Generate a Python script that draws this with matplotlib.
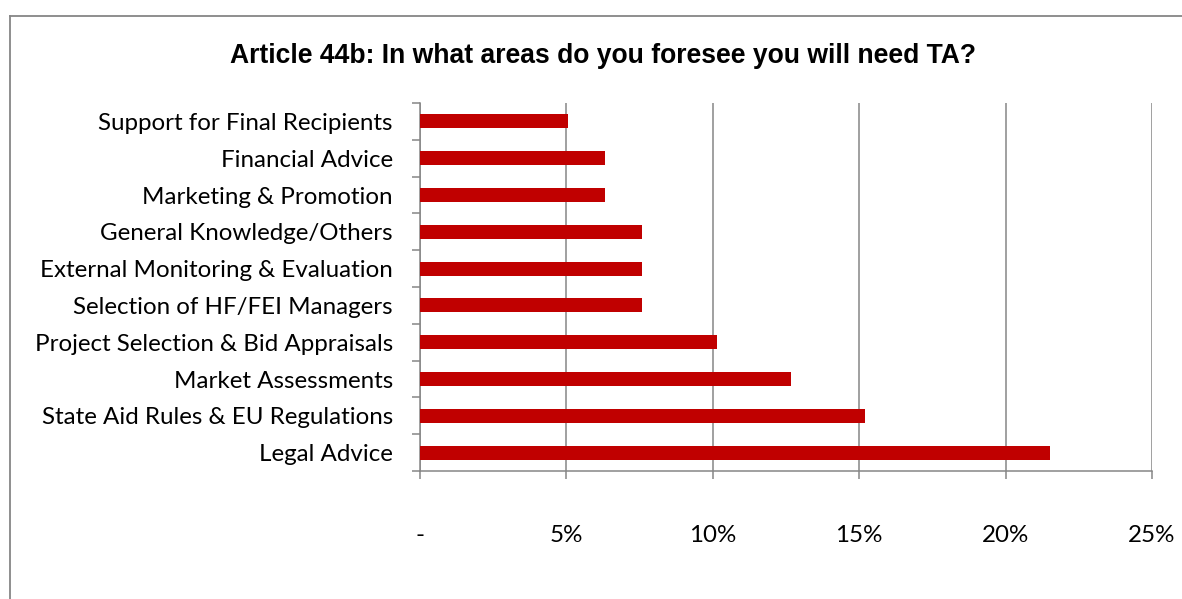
import matplotlib.pyplot as plt
from matplotlib.lines import Line2D
from matplotlib.ticker import FixedLocator

areas = [
    "Support for Final Recipients",
    "Financial Advice",
    "Marketing & Promotion",
    "General Knowledge/Others",
    "External Monitoring & Evaluation",
    "Selection of HF/FEI Managers",
    "Project Selection & Bid Appraisals",
    "Market Assessments",
    "State Aid Rules & EU Regulations",
    "Legal Advice",
]
share = [5.06, 6.33, 6.33, 7.59, 7.59, 7.59, 10.13, 12.66, 15.19, 21.52]
x_ticks = [0, 5, 10, 15, 20, 25]
x_labels = ["-", "5%", "10%", "15%", "20%", "25%"]

grey = "#868686"
plt.rcParams["font.family"] = ["Lato", "DejaVu Sans"]

fig = plt.figure(figsize=(11.82, 5.99), dpi=100)
ax = fig.add_axes([420 / 1182, 1 - 471 / 599, 732 / 1182, 368 / 599])

pos = list(range(len(areas)))
ax.barh(pos, share, height=0.38, color="#C00000", zorder=3)
ax.set_ylim(len(areas) - 0.5, -0.5)
ax.set_xlim(0, 25)

ax.set_yticks(pos)
ax.set_yticklabels(areas, fontsize=17.4)
ax.yaxis.set_minor_locator(FixedLocator([p - 0.5 for p in pos] + [len(areas) - 0.5]))
ax.tick_params(axis="y", which="major", length=0, pad=19.5)
ax.tick_params(axis="y", which="minor", length=5.8, width=1.1, color=grey)

ax.set_xticks(x_ticks)
ax.set_xticklabels(x_labels, fontsize=17.4)
ax.tick_params(axis="x", length=5.8, width=1.1, color=grey, pad=33)

ax.grid(axis="x", color=grey, linewidth=1.1, zorder=0)
ax.spines["top"].set_visible(False)
ax.spines["right"].set_visible(False)
for side in ("left", "bottom"):
    ax.spines[side].set_color(grey)
    ax.spines[side].set_linewidth(1.1)

fig.text(603 / 1182, 1 - 56 / 599, "Article 44b: In what areas do you foresee you will need TA?",
         ha="center", va="center", fontsize=19.1, fontweight="bold",
         family=["Liberation Sans", "DejaVu Sans"])

# outer chart frame (left and top edges only)
fig.add_artist(Line2D([10 / 1182, 10 / 1182], [0, 1 - 16 / 599], color=grey, linewidth=1.3))
fig.add_artist(Line2D([10 / 1182, 1], [1 - 16 / 599, 1 - 16 / 599], color=grey, linewidth=1.3))

fig.savefig("out.png", dpi=100)
